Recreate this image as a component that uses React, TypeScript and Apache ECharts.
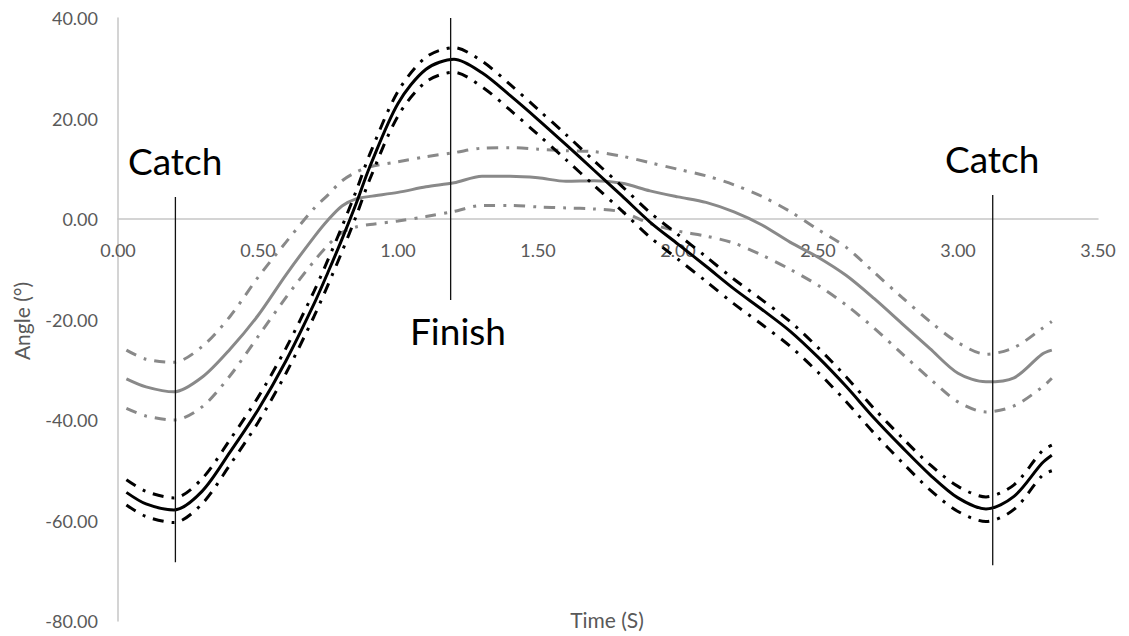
import React, { useEffect, useRef } from "react";
import * as echarts from "echarts";

// Time (s) sample points shared by all series
const times = [
  0.03, 0.1, 0.2, 0.3, 0.4, 0.5, 0.6, 0.7, 0.75, 0.8, 0.85, 0.9,
  1.0, 1.1, 1.2, 1.3, 1.4, 1.5, 1.6, 1.7, 1.8, 1.9, 2.0, 2.1, 2.2, 2.3,
  2.4, 2.5, 2.6, 2.7, 2.8, 2.9, 3.0, 3.1, 3.2, 3.3, 3.335,
];

// Black group (mean and +/- SD)
const blackMean = [
  -54.4, -56.7, -57.9, -54.2, -46.4, -38.0, -28.2, -16.9, -10.6, -4.0, 3.0, 10.5,
  23.0, 29.8, 31.8, 29.1, 24.6, 19.8, 14.8, 9.7, 4.6, -0.6, -5.0, -9.4, -13.9, -18.0,
  -22.3, -27.5, -33.3, -39.6, -45.4, -50.9, -55.5, -57.7, -55.2, -48.6, -47.0,
];
const blackUpper = [
  -51.9, -54.2, -55.5, -51.7, -43.9, -35.5, -25.7, -14.4, -8.1, -1.5, 5.5, 13.0,
  25.4, 32.2, 34.1, 31.4, 26.8, 21.8, 16.8, 11.6, 6.5, 1.3, -3.1, -7.5, -12.0, -16.1,
  -20.4, -25.6, -31.4, -37.7, -43.5, -48.9, -53.2, -55.3, -52.9, -46.2, -45.0,
];
const blackLower = [
  -56.9, -59.2, -60.4, -56.7, -48.9, -40.5, -30.7, -19.4, -13.1, -6.5, 0.5, 8.0,
  20.5, 27.3, 29.2, 26.3, 21.7, 16.8, 11.8, 6.7, 1.6, -3.6, -8.0, -12.4, -16.9, -21.0,
  -25.3, -30.5, -36.3, -42.6, -48.4, -53.9, -58.2, -60.2, -57.8, -51.1, -50.1,
];

// Gray group (mean and +/- SD)
const grayMean = [
  -31.8, -33.4, -34.4, -31.5, -25.9, -19.2, -11.1, -3.6, -0.2, 2.6, 4.0, 4.5,
  5.3, 6.4, 7.2, 8.5, 8.5, 8.2, 7.5, 7.6, 7.1, 5.6, 4.4, 3.3, 1.4, -1.2,
  -4.6, -7.6, -11.2, -15.8, -20.8, -25.8, -30.7, -32.4, -31.6, -26.9, -26.1,
];
const grayUpper = [
  -26.1, -27.9, -28.5, -25.4, -19.4, -11.6, -4.6, 2.1, 4.8, 7.6, 9.3, 10.4,
  11.4, 12.4, 13.2, 14.1, 14.2, 13.9, 13.6, 13.4, 12.5, 11.2, 9.9, 8.6, 6.8, 4.5,
  1.5, -2.1, -5.6, -10.6, -15.6, -20.4, -24.6, -26.9, -25.6, -21.8, -20.4,
];
const grayLower = [
  -37.7, -39.2, -40.0, -37.4, -31.2, -23.4, -15.6, -8.4, -5.2, -2.7, -1.6, -1.1,
  -0.4, 0.5, 1.5, 2.7, 2.7, 2.4, 2.2, 2.0, 1.4, -0.9, -2.4, -3.4, -4.8, -7.2,
  -10.0, -13.2, -17.1, -21.7, -26.8, -31.8, -36.4, -38.4, -37.2, -33.5, -31.7,
];

// Phase markers: [time, top angle, bottom angle]
const catchLeft = [0.205, 4.4, -68.3];
const finishLine = [1.188, 40, -16.1];
const catchRight = [3.124, 4.8, -68.9];

const xTicks = { min: 0, max: 3.5, interval: 0.5 };
const yTicks = { min: -80, max: 40, interval: 20 };

const W = 1129;
const H = 636;
const GRID = { left: 118, right: 31, top: 18, bottom: 15 };

const GRAY = "#898989";
const BLACK = "#000000";
const DASHDOT = [11, 8, 3, 8];
const FONT = "Lato";

function pairs(vals: number[]) {
  return times.map((t, i) => [t, vals[i]]);
}

function curve(vals: number[], color: string, dashed: boolean) {
  return {
    type: "line",
    data: pairs(vals),
    smooth: 0.3,
    symbol: "none",
    silent: true,
    lineStyle: { color, width: 3, type: dashed ? DASHDOT : "solid" },
  };
}

function marker(m: number[]) {
  return {
    type: "line",
    data: [
      [m[0], m[1]],
      [m[0], m[2]],
    ],
    symbol: "none",
    silent: true,
    z: 5,
    lineStyle: { color: "#111", width: 1.3 },
  };
}

function label(text: string, x: number, y: number, size: number, color: string, align = "left", rotation = 0) {
  return {
    type: "text",
    x,
    y,
    rotation,
    silent: true,
    style: {
      text,
      fill: color,
      font: `${size}px ${FONT}`,
      fontSize: size,
      fontFamily: FONT,
      align,
      textAlign: align,
      verticalAlign: "middle",
      textVerticalAlign: "middle",
    },
  };
}

export default function App() {
  const ref = useRef<HTMLDivElement>(null);
  useEffect(() => {
    if (!ref.current) return;
    const chart = echarts.init(ref.current, undefined, { renderer: "svg" });
    const plotH = H - GRID.top - GRID.bottom;
    // move the x axis (line + labels) up to the zero angle line
    const zeroOffset = -(plotH * (0 - yTicks.min)) / (yTicks.max - yTicks.min);
    chart.setOption({
      animation: false,
      backgroundColor: "#ffffff",
      grid: { ...GRID, containLabel: false, outerBoundsMode: "none" },
      xAxis: {
        type: "value",
        min: xTicks.min,
        max: xTicks.max,
        interval: xTicks.interval,
        offset: zeroOffset,
        axisLine: { show: true, onZero: false, lineStyle: { color: "#c6c6c6", width: 1.5 } },
        axisTick: { show: false },
        splitLine: { show: false },
        axisLabel: {
          formatter: (v: number) => v.toFixed(2),
          color: "#595959",
          fontSize: 18,
          fontFamily: FONT,
          margin: 22,
        },
      },
      yAxis: {
        type: "value",
        min: yTicks.min,
        max: yTicks.max,
        interval: yTicks.interval,
        axisLine: { show: true, onZero: false, lineStyle: { color: "#c6c6c6", width: 1.5 } },
        axisTick: { show: false },
        splitLine: { show: false },
        axisLabel: {
          formatter: (v: number) => v.toFixed(2),
          color: "#595959",
          fontSize: 18,
          fontFamily: FONT,
          margin: 20,
        },
      },
      series: [
        curve(grayUpper, GRAY, true),
        curve(grayLower, GRAY, true),
        curve(grayMean, GRAY, false),
        curve(blackUpper, BLACK, true),
        curve(blackLower, BLACK, true),
        curve(blackMean, BLACK, false),
        marker(catchLeft),
        marker(finishLine),
        marker(catchRight),
      ],
      graphic: [
        label("Catch", 128, 160, 37, "#000"),
        label("Finish", 410, 330, 37, "#000"),
        label("Catch", 945, 158, 37, "#000"),
        label("Time (S)", 607, 619, 21, "#595959", "center"),
        label("Angle (°)", 21, 321, 21, "#595959", "center", Math.PI / 2),
      ],
    });
    return () => chart.dispose();
  }, []);
  return (
    <div
      ref={ref}
      style={{ position: "fixed", left: 0, top: 0, width: W, height: H, background: "#fff" }}
    />
  );
}
